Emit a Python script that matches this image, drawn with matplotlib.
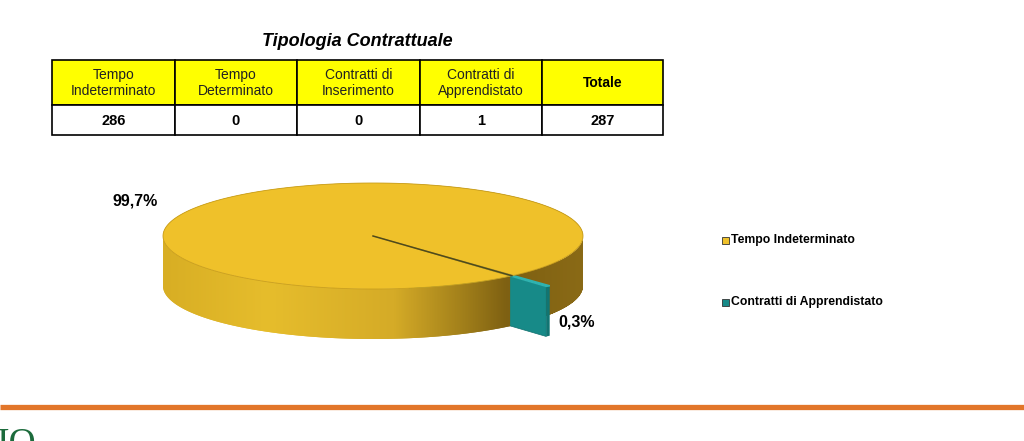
import numpy as np
import matplotlib
matplotlib.use("Agg")
import matplotlib.pyplot as plt
from matplotlib.patches import Polygon, Rectangle
from matplotlib.colors import LinearSegmentedColormap

plt.rcParams['font.family'] = ['Liberation Sans', 'DejaVu Sans']

# ---------------- data ----------------
title = "Tipologia Contrattuale"
table_headers = ["Tempo\nIndeterminato", "Tempo\nDeterminato", "Contratti di\nInserimento",
                 "Contratti di\nApprendistato", "Totale"]
table_values = [286, 0, 0, 1, 287]
pie_labels = ["Tempo Indeterminato", "Contratti di Apprendistato"]
pie_values = [286, 1]
pie_pct_labels = ["99,7%", "0,3%"]
pie_colors = ["#EFC12A", "#178A88"]

# ---------------- figure ----------------
fig = plt.figure(figsize=(10.24, 4.41), dpi=100)
ax = fig.add_axes([0, 0, 1, 1])
ax.set_xlim(0, 1024)
ax.set_ylim(441, 0)
ax.axis('off')

# title
ax.text(357, 42, title, ha='center', va='center', fontsize=13,
        fontweight='bold', fontstyle='italic')

# table
col_edges = [52, 175, 297, 420, 542, 663]
row_edges = [60, 105, 135]
for i, (h, v) in enumerate(zip(table_headers, table_values)):
    x0, x1 = col_edges[i], col_edges[i + 1]
    ax.add_patch(Rectangle((x0, row_edges[0]), x1 - x0, row_edges[1] - row_edges[0],
                           facecolor='#FFFF00', edgecolor='black', lw=1.2, zorder=2))
    ax.add_patch(Rectangle((x0, row_edges[1]), x1 - x0, row_edges[2] - row_edges[1],
                           facecolor='white', edgecolor='black', lw=1.2, zorder=2))
    xc = (x0 + x1) / 2
    if h == "Totale":
        ax.text(xc, 83, h, ha='center', va='center', fontsize=10, fontweight='bold', zorder=3)
    else:
        ax.text(xc, 83, h, ha='center', va='center', fontsize=10, linespacing=1.15,
                color='#222222', zorder=3)
    ax.text(xc, 121, str(v), ha='center', va='center', fontsize=10.5, fontweight='bold', zorder=3)

# ---------------- 3D pie ----------------
cx, cy, a, b, D = 373, 236, 210, 53, 50
explode = 0.26
teal_center_deg = -48.6

vals = np.array(pie_values, dtype=float)
fr = vals / vals.sum()
t_half = 0.5 * 360 * fr[1]
th1 = np.deg2rad(teal_center_deg - t_half)   # teal start
th2 = np.deg2rad(teal_center_deg + t_half)   # teal end
thc = np.deg2rad(teal_center_deg)


def P(t, r=1.0, z=0.0, ox=0.0, oy=0.0):
    return (cx + ox + a * r * np.cos(t), cy + oy - b * r * np.sin(t) + z)


def arc(t0, t1, r=1.0, z=0.0, ox=0.0, oy=0.0, n=200):
    ts = np.linspace(t0, t1, n)
    return np.column_stack([cx + ox + a * r * np.cos(ts), cy + oy - b * r * np.sin(ts) + z])


def wall(t0, t1, ox=0.0, oy=0.0, r=1.0):
    top = arc(t0, t1, r, 0, ox, oy)
    bot = arc(t1, t0, r, D, ox, oy)
    return np.vstack([top, bot])


cmap = LinearSegmentedColormap.from_list(
    'wall', [(0.0, '#D8AE24'), (0.25, '#E6BD2C'), (0.55, '#D5AB27'),
             (0.72, '#A07E1A'), (0.82, '#7E6012'), (1.0, '#8A6A16')])
grad = np.linspace(0, 1, 512).reshape(1, -1)


def gradient_wall(poly_xy, z):
    poly = Polygon(poly_xy, closed=True, facecolor='none', edgecolor='none', zorder=z)
    ax.add_patch(poly)
    im = ax.imshow(grad, cmap=cmap, aspect='auto',
                   extent=(cx - a, cx + a, cy + b + D + 5, cy - b - 5), zorder=z)
    im.set_clip_path(poly)


# right part of yellow wall (behind teal)
gradient_wall(wall(th2, 2 * np.pi), 3)

# teal slice, exploded
ox = explode * a * np.cos(thc)
oy = -explode * b * np.sin(thc)
face = np.array([P(0, 0, 0, ox, oy), P(th1, 1, 0, ox, oy),
                 P(th1, 1, D, ox, oy), P(0, 0, D, ox, oy)])
ax.add_patch(Polygon(face, closed=True, facecolor=pie_colors[1], edgecolor='#0F6E6C',
                     lw=0.5, zorder=4))
ax.add_patch(Polygon(wall(th1, th2, ox, oy), closed=True, facecolor='#117573',
                     edgecolor='none', zorder=4))
teal_top = np.vstack([[cx + ox, cy + oy], arc(th1, th2, 1, 0, ox, oy)])
ax.add_patch(Polygon(teal_top, closed=True, facecolor='#2FB3B0', edgecolor='#2FB3B0',
                     lw=1.0, zorder=4.5))

# left/front part of yellow wall (in front of teal)
gradient_wall(wall(np.pi, th1 + 2 * np.pi), 5)

# yellow top
ytop = np.vstack([[cx, cy], arc(th2, th1 + 2 * np.pi, 1, 0)])
ax.add_patch(Polygon(ytop, closed=True, facecolor=pie_colors[0], edgecolor='#C99E1C',
                     lw=0.6, zorder=6))
# gap line (cut face of the yellow slice)
ax.plot([cx, P(thc)[0]], [cy, P(thc)[1]], color='#4F4A1C', lw=1.1, zorder=7)

# percentage labels
ax.text(135, 201, pie_pct_labels[0], ha='center', va='center', fontsize=11.5, fontweight='bold')
ax.text(577, 322, pie_pct_labels[1], ha='center', va='center', fontsize=11.5, fontweight='bold')

# legend
leg_y = [240, 302]
for lab, col, y in zip(pie_labels, pie_colors, leg_y):
    ax.add_patch(Rectangle((722, y - 3.5), 7, 7, facecolor=col, edgecolor='#333333',
                           lw=0.6, zorder=3))
    ax.text(731, y, lab, ha='left', va='center', fontsize=8.8, fontweight='bold')

# footer
ax.plot([0, 1024], [407, 407], color='#E2762A', lw=3.8, solid_capstyle='butt')
ax.text(-3, 427, "IO", ha='left', va='top', fontsize=27, color='#1C6B3C',
        family=['Liberation Serif', 'DejaVu Serif'])

fig.savefig("out.png", dpi=100)
